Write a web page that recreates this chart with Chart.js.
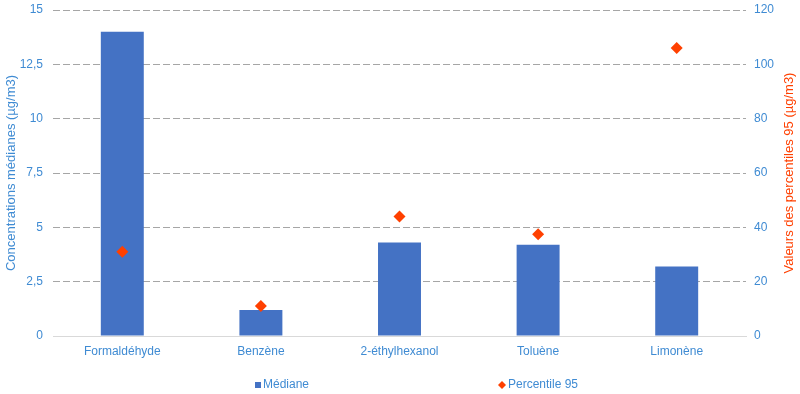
<!DOCTYPE html>
<html>
<head>
<meta charset="utf-8">
<script src="https://cdn.jsdelivr.net/npm/chart.js@4/dist/chart.umd.min.js"></script>
<style>
  html, body { margin: 0; padding: 0; background: #ffffff; }
  #wrap { width: 800px; height: 394px; position: relative; }
</style>
</head>
<body>
<div id="wrap"><canvas id="c" width="800" height="394"></canvas></div>
<script>
const categories = ['Formaldéhyde', 'Benzène', '2-éthylhexanol', 'Toluène', 'Limonène'];
const medianValues = [14, 1.2, 4.3, 4.2, 3.2];
const percentile95Values = [31, 11, 44, 37.5, 106];
const leftTicks = [0, 2.5, 5, 7.5, 10, 12.5, 15];
const rightTicks = [0, 20, 40, 60, 80, 100, 120];
const seriesNames = ['Médiane', 'Percentile 95'];
const axisTitles = ['Concentrations médianes (µg/m3)', 'Valeurs des percentiles 95 (µg/m3)'];

const BLUE_TEXT = '#3F8BD3';
const BAR = '#4472C4';
const RED = '#FF4000';
const FONT = "'Liberation Sans', Arial, sans-serif";

const legendPlugin = {
  id: 'customLegend',
  afterDraw(chart) {
    const ctx = chart.ctx;
    ctx.save();
    ctx.font = '12px ' + FONT;
    ctx.textBaseline = 'middle';
    ctx.textAlign = 'left';
    const y = 385;
    // Médiane
    ctx.fillStyle = BAR;
    ctx.fillRect(255, y - 3, 6, 6);
    ctx.fillStyle = BLUE_TEXT;
    ctx.fillText(seriesNames[0], 263, y);
    // Percentile 95
    ctx.fillStyle = RED;
    ctx.beginPath();
    ctx.moveTo(502, y - 4);
    ctx.lineTo(506, y);
    ctx.lineTo(502, y + 4);
    ctx.lineTo(498, y);
    ctx.closePath();
    ctx.fill();
    ctx.fillStyle = BLUE_TEXT;
    ctx.fillText(seriesNames[1], 508, y);
    // Right axis title, reading bottom to top
    const ca = chart.chartArea;
    ctx.save();
    ctx.translate(789, (ca.top + ca.bottom) / 2);
    ctx.rotate(-Math.PI / 2);
    ctx.font = '13px ' + FONT;
    ctx.textAlign = 'center';
    ctx.textBaseline = 'middle';
    ctx.fillStyle = RED;
    ctx.fillText(axisTitles[1], 0, 0);
    ctx.restore();
    ctx.restore();
  }
};

new Chart(document.getElementById('c'), {
  data: {
    labels: categories,
    datasets: [
      {
        type: 'line',
        label: seriesNames[1],
        data: percentile95Values,
        yAxisID: 'y1',
        showLine: false,
        pointStyle: 'rectRot',
        pointRadius: 6,
        pointHoverRadius: 6,
        backgroundColor: RED,
        borderColor: RED,
        borderWidth: 0,
        order: 0
      },
      {
        type: 'bar',
        label: seriesNames[0],
        data: medianValues,
        yAxisID: 'y',
        backgroundColor: BAR,
        borderWidth: 0,
        categoryPercentage: 1,
        barPercentage: 0.31,
        order: 1
      }
    ]
  },
  options: {
    responsive: false,
    animation: false,
    devicePixelRatio: 1,
    layout: { padding: { top: 10, left: 0, right: 0, bottom: 0 } },
    plugins: {
      legend: { display: false },
      tooltip: { enabled: false }
    },
    scales: {
      x: {
        grid: { display: false, drawTicks: false },
        border: { display: true, color: '#D9D9D9', width: 1 },
        ticks: { color: BLUE_TEXT, font: { family: FONT, size: 12 }, padding: 8, maxRotation: 0 },
        afterFit(scale) { scale.height = 58; scale.paddingLeft = 0; scale.paddingRight = 0; }
      },
      y: {
        position: 'left',
        min: 0, max: 15,
        afterBuildTicks(scale) { scale.ticks = leftTicks.map(v => ({ value: v })); },
        grid: {
          drawTicks: false,
          color: (c) => (c.tick && c.tick.value === 0) ? 'rgba(0,0,0,0)' : '#A6A6A6',
          lineWidth: 1
        },
        border: { display: false, dash: [7, 3] },
        ticks: {
          color: BLUE_TEXT,
          font: { family: FONT, size: 12 },
          padding: 10,
          callback: (v) => String(v).replace('.', ',')
        },
        title: {
          display: true,
          text: axisTitles[0],
          color: BLUE_TEXT,
          font: { family: FONT, size: 13 },
          padding: { top: 4, bottom: 4 }
        },
        afterFit(scale) { scale.width = 53; scale.paddingTop = 0; scale.paddingBottom = 0; }
      },
      y1: {
        position: 'right',
        min: 0, max: 120,
        afterBuildTicks(scale) { scale.ticks = rightTicks.map(v => ({ value: v })); },
        grid: { display: false, drawTicks: false },
        border: { display: false },
        ticks: {
          color: BLUE_TEXT,
          font: { family: FONT, size: 12 },
          padding: 8
        },
        title: { display: false },
        afterFit(scale) { scale.width = 54; scale.paddingTop = 0; scale.paddingBottom = 0; }
      }
    }
  },
  plugins: [legendPlugin]
});
</script>
</body>
</html>
